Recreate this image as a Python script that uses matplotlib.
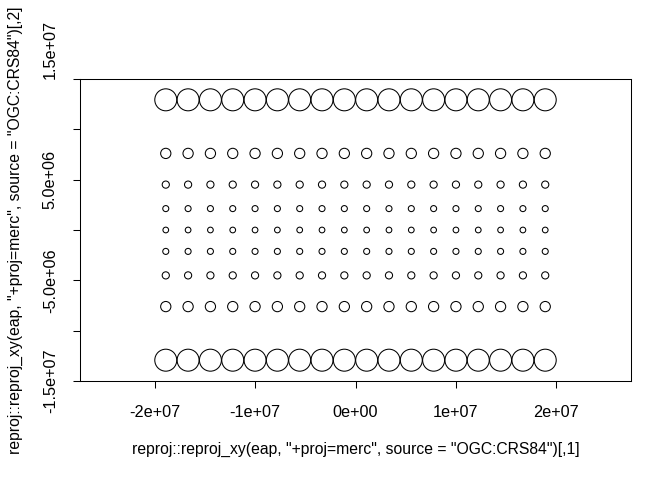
import numpy as np
import matplotlib
matplotlib.use("Agg")
import matplotlib.pyplot as plt

# grid of points (degrees), then shown in Mercator metres
lons = [-170, -150, -130, -110, -90, -70, -50, -30, -10,
        10, 30, 50, 70, 90, 110, 130, 150, 170]
lats = [-75, -56.25, -37.5, -18.75, 0, 18.75, 37.5, 56.25, 75]
# relative circle size per latitude row
row_cex = [3.86, 1.80, 1.26, 1.06, 1.00, 1.06, 1.26, 1.80, 3.86]

x_ticks = [-2e7, -1e7, 0, 1e7, 2e7]
x_labels = ["-2e+07", "-1e+07", "0e+00", "1e+07", "2e+07"]
y_ticks = [-1.5e7, -1e7, -5e6, 0, 5e6, 1e7, 1.5e7]
y_labels = ["-1.5e+07", "", "-5.0e+06", "", "5.0e+06", "", "1.5e+07"]

R = 6378137.0


def merc(lon, lat):
    lon = np.radians(np.asarray(lon, float))
    lat = np.radians(np.asarray(lat, float))
    return R * lon, R * np.log(np.tan(np.pi / 4 + lat / 2))


plt.rcParams["font.family"] = ["Liberation Sans", "DejaVu Sans"]
plt.rcParams["font.size"] = 11.7

fig = plt.figure(figsize=(6.72, 4.8), dpi=100)
ax = fig.add_axes([80 / 672, 99 / 480, 551 / 672, 302 / 480])

LON, LAT = np.meshgrid(lons, lats)
CEX = np.repeat(np.array(row_cex)[:, None], len(lons), axis=1)
x, y = merc(LON.ravel(), LAT.ravel())
ms = 4.1 * CEX.ravel()  # marker diameter in points
ax.scatter(x, y, s=ms ** 2, facecolors="none", edgecolors="black", linewidths=0.75)

ax.set_xlim(-2.748e7, 2.748e7)
ax.set_ylim(-1.5e7, 1.5e7)
ax.set_xticks(x_ticks)
ax.set_xticklabels(x_labels)
ax.set_yticks(y_ticks)
ax.set_yticklabels(y_labels, rotation=90, va="center")
ax.get_yticklabels()[-1].set_va("bottom")  # top label sits above its tick
ax.tick_params(direction="out", length=5, width=0.75, color="black")
ax.tick_params(axis="x", pad=12)
ax.tick_params(axis="y", pad=11)
for s in ax.spines.values():
    s.set_linewidth(0.75)

lab_font = 11.3
ax.set_xlabel('reproj::reproj_xy(eap, "+proj=merc", source = "OGC:CRS84")[,1]',
              fontsize=lab_font)
ax.set_ylabel('reproj::reproj_xy(eap, "+proj=merc", source = "OGC:CRS84")[,2]',
              fontsize=lab_font)
ax.xaxis.set_label_coords(0.5, -0.228)
ax.yaxis.set_label_coords(-0.118, 0.5)
ax.xaxis.label.set_va("center")
ax.yaxis.label.set_va("center")

fig.savefig("out.png", dpi=100)
